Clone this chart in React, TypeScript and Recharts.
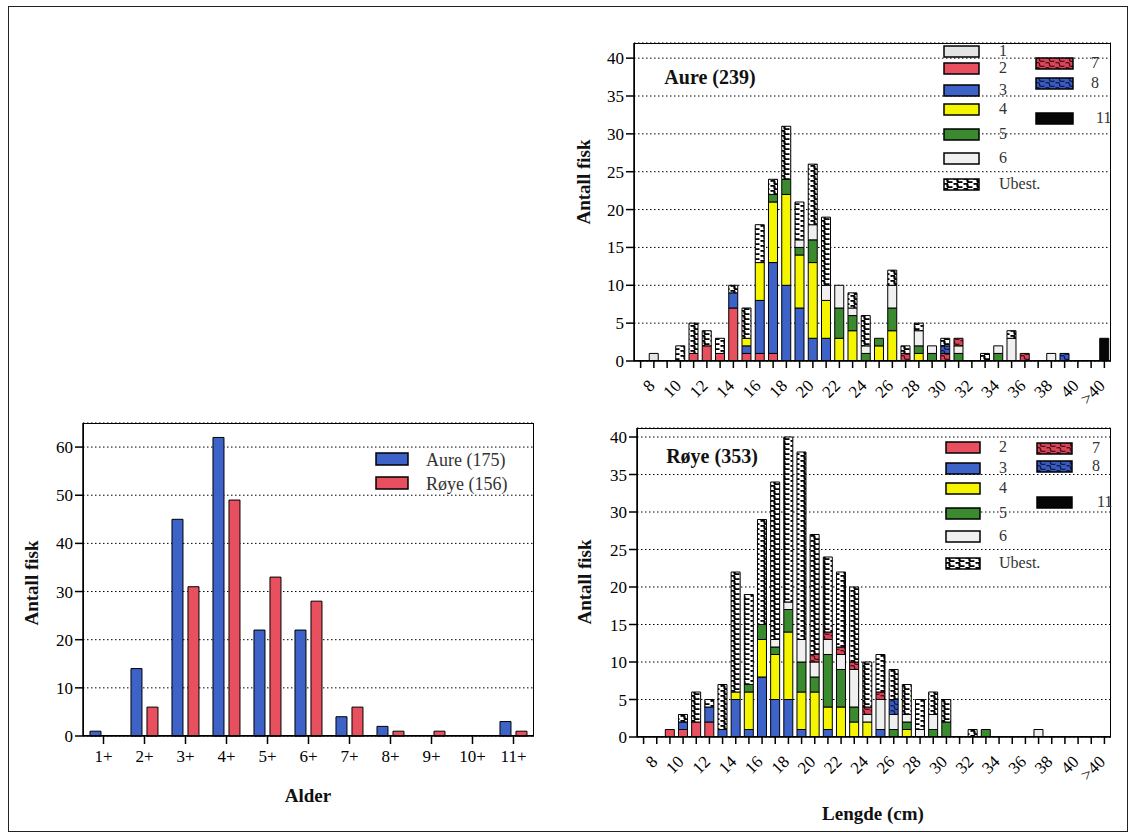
import React from "react";
import { BarChart, Bar, XAxis, YAxis, CartesianGrid } from "recharts";

const FONT = "'Liberation Serif', 'Times New Roman', serif";

// ---- Alder (left chart) ----
const ages = ["1+", "2+", "3+", "4+", "5+", "6+", "7+", "8+", "9+", "10+", "11+"];
const aureByAge = [1, 14, 45, 62, 22, 22, 4, 2, 0, 0, 3];
const royeByAge = [0, 6, 31, 49, 33, 28, 6, 1, 1, 0, 1];
const ageTicks = [0, 10, 20, 30, 40, 50, 60];

// ---- Lengde (right charts) ----
const lengths = ["7", "8", "9", "10", "11", "12", "13", "14", "15", "16", "17", "18", "19", "20", "21", "22", "23", "24", "25", "26", "27", "28", "29", "30", "31", "32", "33", "34", "35", "36", "37", "38", "39", "40", "41", ">40"];
const lengthTickLabels = ["8", "10", "12", "14", "16", "18", "20", "22", "24", "26", "28", "30", "32", "34", "36", "38", "40", ">40"];
const countTicks = [0, 5, 10, 15, 20, 25, 30, 35, 40];

// Aure (239) per age group
const aure1 = [0, 1, 0, 0, 0, 0, 0, 0, 0, 0, 0, 0, 0, 0, 0, 0, 0, 0, 0, 0, 0, 0, 0, 0, 0, 0, 0, 0, 0, 0, 0, 0, 0, 0, 0, 0];
const aure2 = [0, 0, 0, 0, 1, 2, 1, 7, 1, 1, 1, 0, 0, 0, 0, 0, 0, 0, 0, 0, 0, 0, 0, 0, 0, 0, 0, 0, 0, 0, 0, 0, 0, 0, 0, 0];
const aure3 = [0, 0, 0, 0, 0, 0, 0, 2, 1, 7, 12, 10, 7, 3, 3, 0, 0, 0, 0, 0, 0, 0, 0, 0, 0, 0, 0, 0, 0, 0, 0, 0, 0, 0, 0, 0];
const aure4 = [0, 0, 0, 0, 0, 0, 0, 0, 1, 5, 8, 12, 7, 10, 5, 3, 4, 0, 2, 4, 0, 1, 0, 0, 0, 0, 0, 0, 0, 0, 0, 0, 0, 0, 0, 0];
const aure5 = [0, 0, 0, 0, 0, 0, 0, 0, 0, 0, 1, 2, 1, 3, 0, 4, 2, 1, 1, 3, 0, 1, 1, 0, 1, 0, 0, 1, 0, 0, 0, 0, 0, 0, 0, 0];
const aure6 = [0, 0, 0, 0, 0, 0, 0, 0, 0, 0, 0, 0, 1, 2, 2, 3, 1, 1, 0, 3, 0, 2, 1, 0, 1, 0, 0, 1, 3, 0, 0, 1, 0, 0, 0, 0];
const aure7 = [0, 0, 0, 0, 0, 0, 0, 0, 0, 0, 0, 0, 0, 0, 0, 0, 0, 0, 0, 0, 1, 0, 0, 1, 1, 0, 0, 0, 0, 1, 0, 0, 0, 0, 0, 0];
const aure8 = [0, 0, 0, 0, 0, 0, 0, 0, 0, 0, 0, 0, 0, 0, 0, 0, 0, 0, 0, 0, 0, 0, 0, 1, 0, 0, 0, 0, 0, 0, 0, 0, 1, 0, 0, 0];
const aure11 = [0, 0, 0, 0, 0, 0, 0, 0, 0, 0, 0, 0, 0, 0, 0, 0, 0, 0, 0, 0, 0, 0, 0, 0, 0, 0, 0, 0, 0, 0, 0, 0, 0, 0, 0, 3];
const aureUbest = [0, 0, 0, 2, 4, 2, 2, 1, 4, 5, 2, 7, 5, 8, 9, 0, 2, 4, 0, 2, 1, 1, 0, 1, 0, 0, 1, 0, 1, 0, 0, 0, 0, 0, 0, 0];

// Røye (353) per age group
const roye2 = [0, 0, 1, 1, 2, 2, 0, 0, 0, 0, 0, 0, 0, 0, 0, 0, 0, 0, 0, 0, 0, 0, 0, 0, 0, 0, 0, 0, 0, 0, 0, 0, 0, 0, 0, 0];
const roye3 = [0, 0, 0, 1, 0, 2, 1, 5, 1, 8, 5, 5, 1, 0, 1, 0, 0, 0, 1, 0, 0, 0, 0, 0, 0, 0, 0, 0, 0, 0, 0, 0, 0, 0, 0, 0];
const roye4 = [0, 0, 0, 0, 0, 0, 0, 1, 5, 5, 6, 9, 5, 6, 3, 4, 2, 2, 0, 0, 1, 0, 0, 0, 0, 0, 0, 0, 0, 0, 0, 0, 0, 0, 0, 0];
const roye5 = [0, 0, 0, 0, 0, 0, 0, 0, 1, 2, 1, 3, 4, 2, 7, 5, 2, 0, 0, 1, 1, 0, 1, 2, 0, 0, 1, 0, 0, 0, 0, 0, 0, 0, 0, 0];
const roye6 = [0, 0, 0, 0, 0, 0, 0, 0, 0, 0, 1, 1, 3, 2, 2, 2, 5, 1, 4, 2, 1, 1, 2, 0, 0, 0, 0, 0, 0, 0, 1, 0, 0, 0, 0, 0];
const roye7 = [0, 0, 0, 0, 0, 0, 0, 0, 0, 0, 0, 0, 0, 1, 1, 1, 1, 1, 1, 0, 0, 0, 0, 0, 0, 0, 0, 0, 0, 0, 0, 0, 0, 0, 0, 0];
const roye8 = [0, 0, 0, 0, 0, 0, 0, 0, 0, 0, 0, 0, 0, 0, 0, 0, 0, 0, 0, 2, 0, 0, 0, 0, 0, 0, 0, 0, 0, 0, 0, 0, 0, 0, 0, 0];
const royeUbest = [0, 0, 0, 1, 4, 1, 6, 16, 12, 14, 21, 22, 25, 16, 10, 10, 10, 6, 5, 4, 4, 4, 3, 3, 0, 1, 0, 0, 0, 0, 0, 0, 0, 0, 0, 0];

const fills: Record<string, string> = {
  "1": "#e4e4e4",
  "2": "#e8505f",
  "3": "#3d62c8",
  "4": "#f5f500",
  "5": "#3b8a2f",
  "6": "#f0f0f0",
  "7": "url(#p7)",
  "8": "url(#p8)",
  "11": "#060606",
  "Ubest.": "url(#ubest)",
};

const aureSeries: [string, number[]][] = [
  ["1", aure1], ["2", aure2], ["3", aure3], ["4", aure4], ["5", aure5],
  ["6", aure6], ["7", aure7], ["8", aure8], ["11", aure11], ["Ubest.", aureUbest],
];
const royeSeries: [string, number[]][] = [
  ["2", roye2], ["3", roye3], ["4", roye4], ["5", roye5],
  ["6", roye6], ["7", roye7], ["8", roye8], ["Ubest.", royeUbest],
];

const toRows = (series: [string, number[]][]) =>
  lengths.map((len, i) => {
    const row: Record<string, any> = { len };
    series.forEach(([k, vals]) => (row[k] = vals[i]));
    return row;
  });

const ageRows = ages.map((a, i) => ({ age: a, aure: aureByAge[i], roye: royeByAge[i] }));

const tickStyle = { fill: "#000", fontSize: 17, fontFamily: FONT };
const axisLine = { stroke: "#000", strokeWidth: 1.5 };

function LengthTick({ x, y, payload }: any) {
  if (!lengthTickLabels.includes(payload.value)) return null;
  return (
    <g transform={`translate(${x - 1},${y + 14})`}>
      <text transform="rotate(-45)" textAnchor="end" dominantBaseline="middle" {...tickStyle}>
        {payload.value}
      </text>
    </g>
  );
}

function Patterns() {
  const wave = "M0.5,0.8 Q5,0 4.5,2.5 Q4,5 9.5,4.2";
  return (
    <svg width={0} height={0} style={{ position: "absolute" }}>
      <defs>
        <pattern id="ubest" width={10} height={5} patternUnits="userSpaceOnUse">
          <rect width={10} height={5} fill="#fff" />
          <path d={wave} fill="none" stroke="#000" strokeWidth={2.2} />
        </pattern>
        <pattern id="p7" width={10} height={5} patternUnits="userSpaceOnUse">
          <rect width={10} height={5} fill="#d9465a" />
          <path d={wave} fill="none" stroke="#4a0d18" strokeWidth={1.3} />
        </pattern>
        <pattern id="p8" width={10} height={5} patternUnits="userSpaceOnUse">
          <rect width={10} height={5} fill="#3a5bc0" />
          <path d={wave} fill="none" stroke="#0d1a4a" strokeWidth={1.3} />
        </pattern>
      </defs>
    </svg>
  );
}

function Title({ text, x, y, vertical, size = 19 }: any) {
  return (
    <div
      style={{
        position: "absolute",
        left: x,
        top: y,
        transform: `translate(-50%,-50%)${vertical ? " rotate(-90deg)" : ""}`,
        fontWeight: 700,
        fontSize: size,
        fontFamily: FONT,
        whiteSpace: "nowrap",
        color: "#111",
        lineHeight: 1.1,
      }}
    >
      {text}
    </div>
  );
}

type LegendItem = { key: string; label: string; bx: number; by: number; bw: number; lx: number };

function LegendBlock({ items }: { items: LegendItem[] }) {
  return (
    <>
      {items.map((it) => (
        <React.Fragment key={it.key}>
          <svg style={{ position: "absolute", left: it.bx, top: it.by }} width={it.bw + 2} height={13}>
            <rect x={1} y={1} width={it.bw} height={11} fill={fills[it.key]} stroke="#000" strokeWidth={1.5} />
          </svg>
          <div
            style={{
              position: "absolute",
              left: it.lx,
              top: it.by + 6,
              transform: "translateY(-50%)",
              fontSize: 16,
              fontFamily: FONT,
              color: "#333",
              lineHeight: 0.9,
            }}
          >
            {it.label}
          </div>
        </React.Fragment>
      ))}
    </>
  );
}

const aureLegend: LegendItem[] = [
  { key: "1", label: "1", bx: 943, by: 45, bw: 35, lx: 999 },
  { key: "2", label: "2", bx: 943, by: 62, bw: 35, lx: 999 },
  { key: "3", label: "3", bx: 943, by: 84, bw: 35, lx: 999 },
  { key: "4", label: "4", bx: 943, by: 103, bw: 35, lx: 999 },
  { key: "5", label: "5", bx: 943, by: 128, bw: 35, lx: 999 },
  { key: "6", label: "6", bx: 943, by: 152, bw: 35, lx: 999 },
  { key: "Ubest.", label: "Ubest.", bx: 943, by: 178, bw: 35, lx: 999 },
  { key: "7", label: "7", bx: 1035, by: 57, bw: 37, lx: 1091 },
  { key: "8", label: "8", bx: 1035, by: 77, bw: 37, lx: 1091 },
  { key: "11", label: "11", bx: 1035, by: 112, bw: 37, lx: 1096 },
];

const royeLegend: LegendItem[] = [
  { key: "2", label: "2", bx: 945, by: 441, bw: 34, lx: 999 },
  { key: "3", label: "3", bx: 945, by: 462, bw: 34, lx: 999 },
  { key: "4", label: "4", bx: 945, by: 482, bw: 34, lx: 999 },
  { key: "5", label: "5", bx: 945, by: 507, bw: 34, lx: 999 },
  { key: "6", label: "6", bx: 945, by: 530, bw: 34, lx: 999 },
  { key: "Ubest.", label: "Ubest.", bx: 945, by: 557, bw: 34, lx: 999 },
  { key: "7", label: "7", bx: 1036, by: 442, bw: 35, lx: 1092 },
  { key: "8", label: "8", bx: 1036, by: 460, bw: 35, lx: 1092 },
  { key: "11", label: "11", bx: 1036, by: 496, bw: 35, lx: 1097 },
];

// frame around the plotting area, derived from the chart margins
function PlotFrame({ m, yw, xh }: any) {
  return (
    <div
      style={{
        position: "absolute",
        left: m.left + yw,
        top: m.top,
        right: m.right,
        bottom: m.bottom + xh,
        border: "1.5px solid #000",
        boxSizing: "border-box",
        pointerEvents: "none",
      }}
    />
  );
}

function LengthChart({ series, left, top, height, margin, domainMax }: any) {
  const rows = toRows(series);
  return (
    <div style={{ position: "absolute", left, top, width: 560, height }}>
      <BarChart width={560} height={height} data={rows} margin={margin} barCategoryGap="15%">
        <CartesianGrid vertical={false} stroke="#000" strokeDasharray="1.5 2.5" />
        <XAxis
          dataKey="len"
          interval={0}
          tick={<LengthTick />}
          tickSize={7}
          height={50}
          axisLine={axisLine}
          tickLine={axisLine}
        />
        <YAxis
          domain={[0, domainMax]}
          ticks={countTicks}
          interval={0}
          width={44}
          tickSize={8}
          tick={tickStyle}
          axisLine={axisLine}
          tickLine={axisLine}
          allowDataOverflow
        />
        {series.map(([k]: [string]) => (
          <Bar key={k} dataKey={k} stackId="s" fill={fills[k]} stroke="#000" strokeWidth={1} isAnimationActive={false} />
        ))}
      </BarChart>
      <PlotFrame m={margin} yw={44} xh={50} />
    </div>
  );
}

const ageMargin = { top: 8, right: 26, bottom: 59, left: 43 };

export default function App() {
  return (
    <div style={{ position: "absolute", left: 0, top: 0, width: 1129, height: 834, background: "#fff", fontFamily: FONT }}>
      <Patterns />
      <div style={{ position: "absolute", left: 8, top: 6, width: 1120, height: 826, border: "1px solid #222", boxSizing: "border-box" }} />

      {/* Alder */}
      <div style={{ position: "absolute", left: 0, top: 415, width: 560, height: 420 }}>
        <BarChart width={560} height={420} data={ageRows} margin={ageMargin} barCategoryGap="17%" barGap={5}>
          <CartesianGrid vertical={false} stroke="#000" strokeDasharray="1.5 2.5" />
          <XAxis dataKey="age" interval={0} tickSize={8} tickMargin={6} height={40} tick={tickStyle} axisLine={axisLine} tickLine={axisLine} />
          <YAxis domain={[0, 65]} ticks={ageTicks} interval={0} width={40} tickSize={8} tick={tickStyle} axisLine={axisLine} tickLine={axisLine} />
          <Bar dataKey="aure" fill={fills["3"]} stroke="#000" strokeWidth={1} isAnimationActive={false} />
          <Bar dataKey="roye" fill={fills["2"]} stroke="#000" strokeWidth={1} isAnimationActive={false} />
        </BarChart>
        <PlotFrame m={ageMargin} yw={40} xh={40} />
      </div>
      <svg style={{ position: "absolute", left: 375, top: 452 }} width={36} height={40}>
        <rect x={1} y={1} width={32} height={12} fill={fills["3"]} stroke="#000" strokeWidth={1.5} />
        <rect x={1} y={25} width={32} height={12} fill={fills["2"]} stroke="#000" strokeWidth={1.5} />
      </svg>
      <div style={{ position: "absolute", left: 426, top: 448, fontSize: 18, fontFamily: FONT, color: "#333", lineHeight: "24px" }}>
        <div>Aure (175)</div>
        <div>Røye (156)</div>
      </div>
      <Title text="Antall fisk" x={32} y={583} vertical />
      <Title text="Alder" x={308} y={796} />

      {/* Aure lengde */}
      <LengthChart
        series={aureSeries}
        left={560}
        top={30}
        height={400}
        margin={{ top: 13, right: 9, bottom: 19, left: 30 }}
        domainMax={42}
      />
      <LegendBlock items={aureLegend} />
      <Title text="Aure (239)" x={710} y={77} size={20} />
      <Title text="Antall fisk" x={584} y={182} vertical />

      {/* Røye lengde */}
      <LengthChart
        series={royeSeries}
        left={560}
        top={415}
        height={420}
        margin={{ top: 13, right: 9, bottom: 48, left: 33 }}
        domainMax={41.2}
      />
      <LegendBlock items={royeLegend} />
      <Title text="Røye (353)" x={712} y={456} size={20} />
      <Title text="Antall fisk" x={585} y={582} vertical />
      <Title text="Lengde (cm)" x={873} y={814} />
    </div>
  );
}
